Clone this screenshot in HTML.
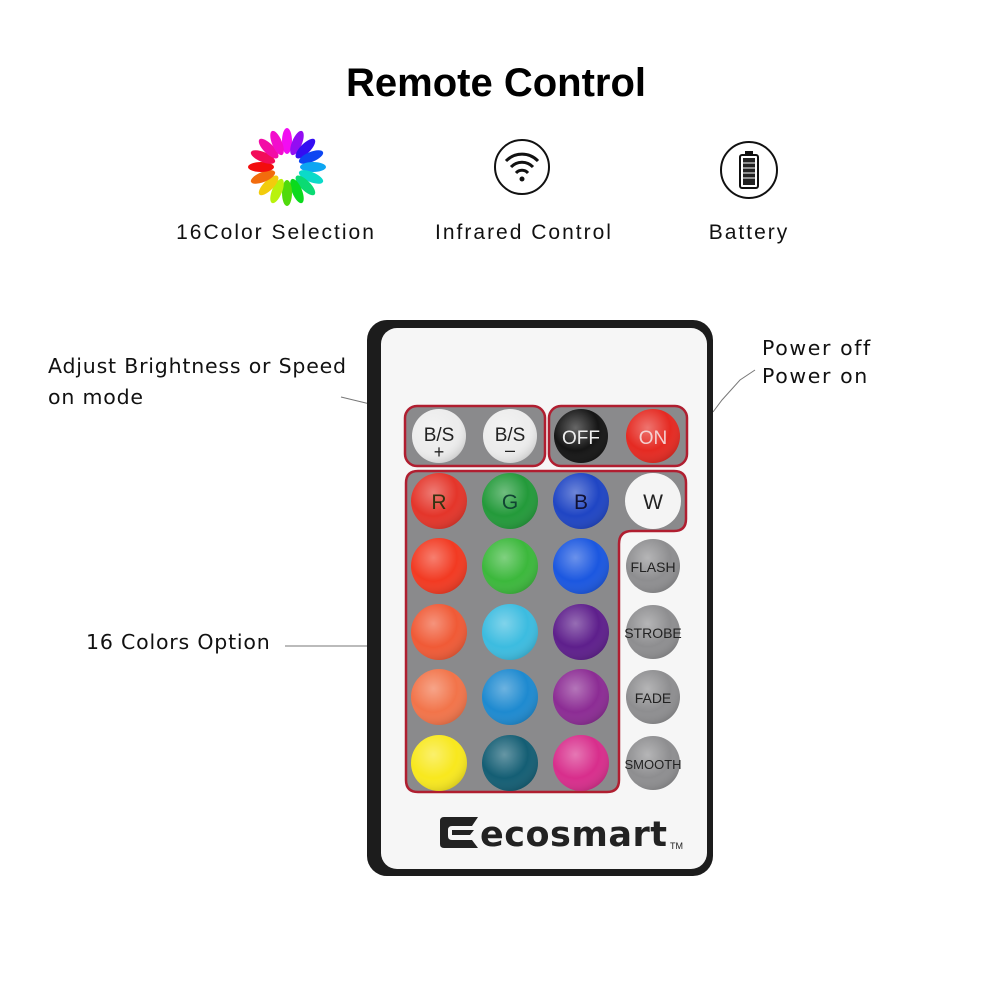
<!DOCTYPE html>
<html><head><meta charset="utf-8"><style>
html,body{margin:0;padding:0;background:#fff;}
svg{display:block}
</style></head><body>
<svg width="1000" height="1000" viewBox="0 0 1000 1000" xmlns="http://www.w3.org/2000/svg">
<defs>
<radialGradient id="sh" cx="0.4" cy="0.35" r="0.7">
<stop offset="0" stop-color="#fff" stop-opacity="0.35"/>
<stop offset="0.6" stop-color="#fff" stop-opacity="0"/>
<stop offset="1" stop-color="#000" stop-opacity="0.15"/>
</radialGradient>
</defs>
<rect width="1000" height="1000" fill="#fff"/>
<text x="496" y="96" text-anchor="middle" font-family="Liberation Sans, sans-serif" font-weight="bold" font-size="40" fill="#000">Remote Control</text>

<g transform="translate(287,167)">
<g transform="rotate(0)"><ellipse cx="0" cy="-26" rx="5" ry="13" fill="hsl(300,90%,50%)"/></g>
<g transform="rotate(22.5)"><ellipse cx="0" cy="-26" rx="5" ry="13" fill="hsl(275,90%,50%)"/></g>
<g transform="rotate(45)"><ellipse cx="0" cy="-26" rx="5" ry="13" fill="hsl(250,90%,50%)"/></g>
<g transform="rotate(67.5)"><ellipse cx="0" cy="-26" rx="5" ry="13" fill="hsl(225,90%,50%)"/></g>
<g transform="rotate(90)"><ellipse cx="0" cy="-26" rx="5" ry="13" fill="hsl(200,90%,50%)"/></g>
<g transform="rotate(112.5)"><ellipse cx="0" cy="-26" rx="5" ry="13" fill="hsl(175,90%,45%)"/></g>
<g transform="rotate(135)"><ellipse cx="0" cy="-26" rx="5" ry="13" fill="hsl(150,90%,45%)"/></g>
<g transform="rotate(157.5)"><ellipse cx="0" cy="-26" rx="5" ry="13" fill="hsl(125,90%,45%)"/></g>
<g transform="rotate(180)"><ellipse cx="0" cy="-26" rx="5" ry="13" fill="hsl(100,90%,45%)"/></g>
<g transform="rotate(202.5)"><ellipse cx="0" cy="-26" rx="5" ry="13" fill="hsl(75,90%,50%)"/></g>
<g transform="rotate(225)"><ellipse cx="0" cy="-26" rx="5" ry="13" fill="hsl(50,90%,50%)"/></g>
<g transform="rotate(247.5)"><ellipse cx="0" cy="-26" rx="5" ry="13" fill="hsl(25,90%,50%)"/></g>
<g transform="rotate(270)"><ellipse cx="0" cy="-26" rx="5" ry="13" fill="hsl(0,90%,50%)"/></g>
<g transform="rotate(292.5)"><ellipse cx="0" cy="-26" rx="5" ry="13" fill="hsl(340,90%,50%)"/></g>
<g transform="rotate(315)"><ellipse cx="0" cy="-26" rx="5" ry="13" fill="hsl(320,90%,50%)"/></g>
<g transform="rotate(337.5)"><ellipse cx="0" cy="-26" rx="5" ry="13" fill="hsl(310,90%,50%)"/></g>
</g>

<circle cx="522" cy="167" r="27" fill="none" stroke="#111" stroke-width="2"/>
<path d="M506 161 A22 22 0 0 1 538 161" fill="none" stroke="#111" stroke-width="3"/>
<path d="M511 167 A15 15 0 0 1 533 167" fill="none" stroke="#111" stroke-width="3"/>
<path d="M516 173 A8 8 0 0 1 528 173" fill="none" stroke="#111" stroke-width="3"/>
<circle cx="522" cy="179" r="2.5" fill="#111"/>

<circle cx="749" cy="170" r="28" fill="none" stroke="#111" stroke-width="2"/>
<rect x="745" y="151" width="8" height="4" fill="#111"/>
<rect x="740" y="155" width="18" height="33" rx="2" fill="none" stroke="#111" stroke-width="2"/>
<rect x="743" y="158" width="12" height="27" fill="#222"/>
<g stroke="#fff" stroke-width="1"><line x1="743" y1="163" x2="755" y2="163"/><line x1="743" y1="168" x2="755" y2="168"/><line x1="743" y1="173" x2="755" y2="173"/><line x1="743" y1="178" x2="755" y2="178"/></g>

<g font-family="Liberation Sans, sans-serif" font-size="21" fill="#111" letter-spacing="2">
<text x="276" y="239" text-anchor="middle">16Color Selection</text>
<text x="524" y="239" text-anchor="middle">Infrared Control</text>
<text x="749" y="239" text-anchor="middle">Battery</text>
</g>

<g font-family="DejaVu Sans, sans-serif" font-size="20.5" fill="#111" letter-spacing="0.8">
<text x="48" y="373">Adjust Brightness or Speed</text>
<text x="48" y="404">on mode</text>
<text x="86" y="649">16 Colors Option</text>
<text x="762" y="355" letter-spacing="1.6">Power off</text>
<text x="762" y="383" letter-spacing="1.6">Power on</text>
</g>
<g stroke="#777" stroke-width="1" fill="none">
<line x1="341" y1="397" x2="370" y2="404"/>
<line x1="285" y1="646" x2="368" y2="646"/>
<polyline points="755,370 740,380 722,400 713,412"/>
</g>

<rect x="367" y="320" width="346" height="556" rx="20" fill="#1c1c1c"/>
<rect x="381" y="328" width="326" height="541" rx="16" fill="#f6f6f6"/>

<rect x="405" y="406" width="140" height="60" rx="12" fill="#8a8a8c" stroke="#b01e30" stroke-width="2.5"/>
<rect x="549" y="406" width="138" height="60" rx="12" fill="#8a8a8c" stroke="#b01e30" stroke-width="2.5"/>
<path d="M418 471 H674 Q686 471 686 483 V519 Q686 531 674 531 H632 Q619 531 619 544 V780 Q619 792 607 792 H418 Q406 792 406 780 V483 Q406 471 418 471 Z" fill="#8a8a8c" stroke="#b01e30" stroke-width="2.5"/>

<g>
<circle cx="439" cy="436" r="27" fill="#ececec"/>
<circle cx="510" cy="436" r="27" fill="#ececec"/>
<circle cx="581" cy="436" r="27" fill="#151515"/>
<circle cx="653" cy="436" r="27" fill="#e52a22"/>
<circle cx="439" cy="501" r="28" fill="#e4352a"/>
<circle cx="510" cy="501" r="28" fill="#239a3a"/>
<circle cx="581" cy="501" r="28" fill="#1f45c4"/>
<circle cx="653" cy="501" r="28" fill="#f4f4f4"/>
<circle cx="439" cy="566" r="28" fill="#f23a22"/>
<circle cx="510" cy="566" r="28" fill="#3cb83c"/>
<circle cx="581" cy="566" r="28" fill="#1b57e0"/>
<circle cx="439" cy="632" r="28" fill="#f05a36"/>
<circle cx="510" cy="632" r="28" fill="#3cbce0"/>
<circle cx="581" cy="632" r="28" fill="#5e1f8c"/>
<circle cx="439" cy="697" r="28" fill="#f2744a"/>
<circle cx="510" cy="697" r="28" fill="#1e8ad0"/>
<circle cx="581" cy="697" r="28" fill="#8c2c94"/>
<circle cx="439" cy="763" r="28" fill="#f8e81e"/>
<circle cx="510" cy="763" r="28" fill="#145e74"/>
<circle cx="581" cy="763" r="28" fill="#d82e8c"/>
<circle cx="653" cy="566" r="27" fill="#8e8e90"/>
<circle cx="653" cy="632" r="27" fill="#8e8e90"/>
<circle cx="653" cy="697" r="27" fill="#8e8e90"/>
<circle cx="653" cy="763" r="27" fill="#8e8e90"/>
</g>
<g fill="url(#sh)">
<circle cx="439" cy="436" r="27"/><circle cx="510" cy="436" r="27"/><circle cx="581" cy="436" r="27"/><circle cx="653" cy="436" r="27"/>
<circle cx="439" cy="501" r="28"/><circle cx="510" cy="501" r="28"/><circle cx="581" cy="501" r="28"/>
<circle cx="439" cy="566" r="28"/><circle cx="510" cy="566" r="28"/><circle cx="581" cy="566" r="28"/>
<circle cx="439" cy="632" r="28"/><circle cx="510" cy="632" r="28"/><circle cx="581" cy="632" r="28"/>
<circle cx="439" cy="697" r="28"/><circle cx="510" cy="697" r="28"/><circle cx="581" cy="697" r="28"/>
<circle cx="439" cy="763" r="28"/><circle cx="510" cy="763" r="28"/><circle cx="581" cy="763" r="28"/>
<circle cx="653" cy="566" r="27"/><circle cx="653" cy="632" r="27"/><circle cx="653" cy="697" r="27"/><circle cx="653" cy="763" r="27"/>
</g>
<g font-family="Liberation Sans, sans-serif" text-anchor="middle">
<text x="439" y="441" font-size="19" fill="#222">B/S</text>
<text x="439" y="458" font-size="18" fill="#222">+</text>
<text x="510" y="441" font-size="19" fill="#222">B/S</text>
<text x="510" y="456" font-size="18" fill="#222">–</text>
<text x="581" y="444" font-size="19" fill="#eee">OFF</text>
<text x="653" y="444" font-size="19" fill="#f4d0d0">ON</text>
<text x="439" y="509" font-size="21" fill="#331">R</text>
<text x="510" y="509" font-size="21" fill="#143">G</text>
<text x="581" y="509" font-size="21" fill="#113">B</text>
<text x="653" y="509" font-size="21" fill="#222">W</text>
<text x="653" y="572" font-size="14" fill="#222">FLASH</text>
<text x="653" y="638" font-size="14" fill="#222">STROBE</text>
<text x="653" y="703" font-size="14" fill="#222">FADE</text>
<text x="653" y="769" font-size="13" fill="#222">SMOOTH</text>
</g>
<path d="M444 817 H478 L472 826 H452 Q448 826 448 830 V836 Q448 840 452 840 H472 L478 848 H444 Q440 848 440 844 V821 Q440 817 444 817 Z" fill="#222"/>
<path d="M452 830 H474 L470 835 H452 Z" fill="#222"/>
<text x="480" y="846" font-family="DejaVu Sans, sans-serif" font-weight="bold" font-size="35" fill="#222" letter-spacing="0.5">ecosmart</text>
<text x="670" y="849" font-family="Liberation Sans, sans-serif" font-size="9" fill="#222">TM</text>
</svg>
</body></html>
